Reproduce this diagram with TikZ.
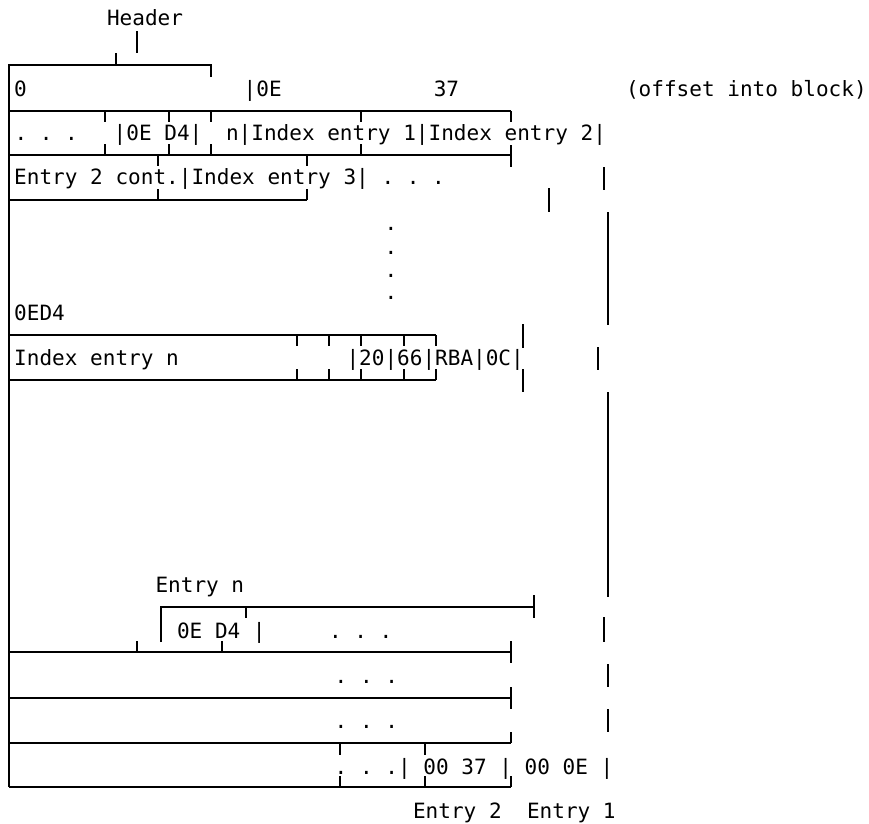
\documentclass[tikz,border=0pt]{standalone}
\usepackage{fontspec}
\newfontfamily\monofnt{DejaVu Sans Mono}
\tikzset{
  txt/.style={inner sep=0pt, outer sep=0pt, anchor=base west,
    font=\monofnt\fontsize{21.04}{24}\selectfont},
  ln/.style={line width=1.2pt, line cap=butt},
}
\begin{document}
\begin{tikzpicture}[x=1pt,y=-1pt]
\useasboundingbox (0,0) rectangle (869,823);
% ---- texts ----
\node[txt] (hdr) at (107,25) {Header};
\node[txt] (a0) at (14.2,96) {0};
\node[txt] (a0e) at (243.7,96) {|0E};
\node[txt] (a37) at (433.8,96) {37};
\node[txt] (aoff) at (626,96) {(offset~into~block)};
\node[txt] (b1) at (14.5,140) {.~.~.};
\node[txt] (b2) at (113.7,140) {|0E~D4|};
\node[txt] (b3) at (226,140) {n|Index~entry~1|Index~entry~2|};
\node[txt] (c1) at (14.2,184) {Entry~2~cont.|Index~entry~3|~.~.~.};
\node[txt] (v1) at (384.7,230) {.};
\node[txt] (v2) at (384.7,254) {.};
\node[txt] (v3) at (384.7,277) {.};
\node[txt] (v4) at (384.7,299) {.};
\node[txt] (oed) at (14.2,320) {0ED4};
\node[txt] (ien) at (14.2,365) {Index~entry~n};
\node[txt] (rba) at (346.5,365) {|20|66|RBA|0C|};
\node[txt] (entn) at (155.5,592) {Entry~n};
\node[txt] (r1) at (177,638) {0E~D4~|~~~~~.~.~.};
\node[txt] (r2) at (334.7,683) {.~.~.};
\node[txt] (r3) at (334.7,728) {.~.~.};
\node[txt] (r4) at (334.7,774) {.~.~.|~00~37~|~00~0E~|};
\node[txt] (ent21) at (413,818) {Entry~2~~Entry~1};
% ---- header bracket ----
\draw[ln] (137,31) -- (137,53);
\draw[ln] (116,53) -- (116,65);
\draw[ln] (211,77) -- (211,65) -- (9,65) -- (9,787);
% ---- box 1 ----
\draw[ln] (9,111) -- (511,111);
\draw[ln] (9,155) -- (511,155);
\foreach \xx in {105,169,211,361} {
  \draw[ln] (\xx,111) -- (\xx,122);
  \draw[ln] (\xx,144) -- (\xx,155);
}
\draw[ln] (511,111) -- (511,122);
\draw[ln] (511,145) -- (511,167);
% ---- box 2 ----
\draw[ln] (9,200) -- (307,200);
\foreach \xx in {158,307} {
  \draw[ln] (\xx,155) -- (\xx,166);
  \draw[ln] (\xx,189) -- (\xx,200);
}
% ---- right side verticals ----
\draw[ln] (604,167) -- (604,190);
\draw[ln] (549,188) -- (549,212);
\draw[ln] (608,212) -- (608,325);
\draw[ln] (523,324) -- (523,348);
\draw[ln] (523,369) -- (523,392);
\draw[ln] (598,347) -- (598,370);
\draw[ln] (608,392) -- (608,597);
\draw[ln] (604,617) -- (604,642);
\draw[ln] (608,664) -- (608,687);
\draw[ln] (608,709) -- (608,732);
% ---- Index entry n box ----
\draw[ln] (9,335) -- (436,335);
\draw[ln] (9,380) -- (436,380);
\foreach \xx in {297,329,361,404,436} {
  \draw[ln] (\xx,335) -- (\xx,346);
  \draw[ln] (\xx,369) -- (\xx,380);
}
% ---- Entry n bracket ----
\draw[ln] (161,642) -- (161,607) -- (534,607);
\draw[ln] (246,607) -- (246,618);
\draw[ln] (534,595) -- (534,618);
% ---- bottom rows ----
\draw[ln] (9,652) -- (511,652);
\draw[ln] (137,641) -- (137,652);
\draw[ln] (222,641) -- (222,652);
\draw[ln] (511,641) -- (511,663);
\draw[ln] (9,698) -- (511,698);
\draw[ln] (511,687) -- (511,709);
\draw[ln] (9,743) -- (511,743);
\draw[ln] (511,732) -- (511,743);
\draw[ln] (340,743) -- (340,755);
\draw[ln] (425,743) -- (425,755);
\draw[ln] (9,787) -- (511,787);
\draw[ln] (340,776) -- (340,787);
\draw[ln] (425,776) -- (425,787);
\draw[ln] (511,776) -- (511,787);
\end{tikzpicture}
\end{document}
